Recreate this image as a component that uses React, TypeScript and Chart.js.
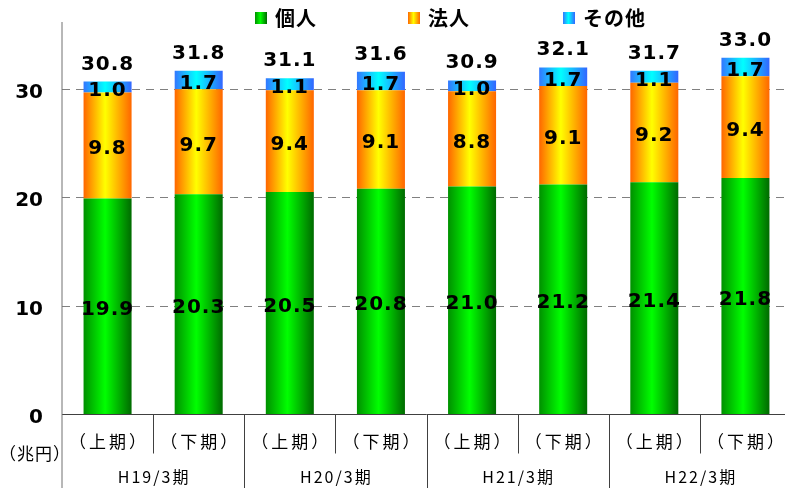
import { useEffect, useRef } from 'react';
import { Chart, registerables } from 'chart.js';

Chart.register(...registerables);

const periods = ['（上期）', '（下期）', '（上期）', '（下期）', '（上期）', '（下期）', '（上期）', '（下期）'];
const groups = ['H19/3期', 'H20/3期', 'H21/3期', 'H22/3期'];
const individual = [19.9, 20.3, 20.5, 20.8, 21.0, 21.2, 21.4, 21.8];
const corporate = [9.8, 9.7, 9.4, 9.1, 8.8, 9.1, 9.2, 9.4];
const others = [1.0, 1.7, 1.1, 1.7, 1.0, 1.7, 1.1, 1.7];
const totals = [30.8, 31.8, 31.1, 31.6, 30.9, 32.1, 31.7, 33.0];
const seriesNames = ['個人', '法人', 'その他'];
const yTicks = [0, 10, 20, 30];
const yUnit = '（兆円）';

const gradStops: [number, string][][] = [
  [[0, '#009000'], [0.45, '#00ff00'], [1, '#006a00']],
  [[0, '#ff6600'], [0.45, '#ffff00'], [1, '#ff6600']],
  [[0, '#3377ff'], [0.45, '#00ffff'], [1, '#3366ff']],
];

const BAR_PCT = 0.527;
const NUM_FONT = '"DejaVu Sans", sans-serif';
const JP_FONT = '"Noto Sans CJK JP", sans-serif';

function makeGrad(ctx: CanvasRenderingContext2D, x0: number, x1: number, stops: [number, string][]) {
  const g = ctx.createLinearGradient(x0, 0, x1, 0);
  stops.forEach(([o, c]) => g.addColorStop(o, c));
  return g;
}

function barBg(si: number) {
  return (c: any) => {
    const chart = c.chart;
    const area = chart.chartArea;
    const xs = chart.scales?.x;
    if (!area || !xs || c.dataIndex === undefined) return gradStops[si][1][1];
    const cx = xs.getPixelForValue(c.dataIndex);
    const w = (area.width / periods.length) * BAR_PCT;
    return makeGrad(chart.ctx, cx - w / 2, cx + w / 2, gradStops[si]);
  };
}

function withSpacing(ctx: CanvasRenderingContext2D, sp: string, fn: () => void) {
  const anyCtx = ctx as any;
  const prev = anyCtx.letterSpacing;
  if ('letterSpacing' in anyCtx) anyCtx.letterSpacing = sp;
  fn();
  if ('letterSpacing' in anyCtx) anyCtx.letterSpacing = prev ?? '0px';
}

const drawPlugin = {
  id: 'custom',
  beforeDatasetsDraw(chart: any) {
    const { ctx, chartArea: a, scales } = chart;
    const y = scales.y;
    ctx.save();
    ctx.strokeStyle = '#808080';
    ctx.lineWidth = 1;
    ctx.setLineDash([8, 6]);
    yTicks.forEach((v) => {
      if (v === 0) return;
      const py = Math.round(y.getPixelForValue(v)) + 0.5;
      ctx.beginPath();
      ctx.moveTo(a.left, py);
      ctx.lineTo(a.right, py);
      ctx.stroke();
    });
    ctx.restore();
  },
  afterDatasetsDraw(chart: any) {
    const { ctx, chartArea: a, scales } = chart;
    const x = scales.x;
    const y = scales.y;
    const H = chart.height;
    const catW = a.width / periods.length;
    const base = Math.round(y.getPixelForValue(0)) + 0.5;

    ctx.save();
    ctx.strokeStyle = '#404040';
    ctx.lineWidth = 1;
    ctx.beginPath();
    ctx.moveTo(a.left, base);
    ctx.lineTo(a.right, base);
    ctx.stroke();

    ctx.strokeStyle = '#707070';
    ctx.beginPath();
    ctx.moveTo(a.left, a.top);
    ctx.lineTo(a.left, H);
    ctx.stroke();

    ctx.strokeStyle = '#404040';
    for (let i = 1; i < periods.length; i++) {
      const sx = Math.round(a.left + catW * i) + 0.5;
      const isGroup = i % 2 === 0;
      ctx.beginPath();
      ctx.moveTo(sx, base);
      ctx.lineTo(sx, isGroup ? H : base + 39);
      ctx.stroke();
    }

    ctx.fillStyle = '#000';
    ctx.font = `bold 20px ${NUM_FONT}`;
    ctx.textAlign = 'right';
    ctx.textBaseline = 'alphabetic';
    yTicks.forEach((v) => {
      ctx.fillText(String(v), 43, y.getPixelForValue(v) + 9);
    });

    ctx.font = `17px ${JP_FONT}`;
    ctx.textAlign = 'left';
    ctx.textBaseline = 'middle';
    withSpacing(ctx, '1px', () => ctx.fillText(yUnit, -1, 454));

    ctx.textAlign = 'center';
    ctx.font = `17px ${JP_FONT}`;
    periods.forEach((p, i) => {
      withSpacing(ctx, '3px', () => ctx.fillText(p, x.getPixelForValue(i) + 1.5, 442));
    });
    ctx.font = `16px ${JP_FONT}`;
    groups.forEach((g, gi) => {
      const cx = a.left + catW * (gi * 2 + 1);
      withSpacing(ctx, '2px', () => ctx.fillText(g, cx + 1, 477));
    });

    ctx.font = `bold 20px ${NUM_FONT}`;
    ctx.textAlign = 'center';
    ctx.textBaseline = 'alphabetic';
    chart.data.datasets.forEach((ds: any, di: number) => {
      const meta = chart.getDatasetMeta(di);
      meta.data.forEach((el: any, i: number) => {
        const cy = (el.y + el.base) / 2;
        ctx.fillText(ds.data[i].toFixed(1), el.x, cy + 9);
      });
    });

    const topMeta = chart.getDatasetMeta(chart.data.datasets.length - 1);
    topMeta.data.forEach((el: any, i: number) => {
      ctx.fillText(totals[i].toFixed(1), el.x, el.y - 12);
    });

    const legendX = [255, 408, 563];
    ctx.textAlign = 'left';
    ctx.textBaseline = 'middle';
    ctx.font = `bold 20px ${JP_FONT}`;
    seriesNames.forEach((n, si) => {
      const lx = legendX[si];
      ctx.fillStyle = makeGrad(ctx, lx, lx + 12, gradStops[si]);
      ctx.fillRect(lx, 12, 12, 12);
      ctx.fillStyle = '#000';
      ctx.fillText(n, lx + 20, 18);
    });
    ctx.restore();
  },
};

export default function App() {
  const ref = useRef<HTMLCanvasElement | null>(null);
  useEffect(() => {
    if (!ref.current) return;
    const chart = new Chart(ref.current, {
      type: 'bar',
      data: {
        labels: periods,
        datasets: [
          { label: seriesNames[0], data: individual, backgroundColor: barBg(0) as any, borderWidth: 0 },
          { label: seriesNames[1], data: corporate, backgroundColor: barBg(1) as any, borderWidth: 0 },
          { label: seriesNames[2], data: others, backgroundColor: barBg(2) as any, borderWidth: 0 },
        ],
      },
      options: {
        responsive: false,
        animation: false,
        devicePixelRatio: 1,
        layout: { padding: { left: 62, top: 22, right: 0, bottom: 74 } },
        datasets: { bar: { barPercentage: BAR_PCT, categoryPercentage: 1 } },
        plugins: { legend: { display: false }, tooltip: { enabled: false } },
        scales: {
          x: { stacked: true, display: false },
          y: { stacked: true, display: false, min: 0, max: 36.2 },
        },
      },
      plugins: [drawPlugin],
    });
    return () => chart.destroy();
  }, []);
  return (
    <div style={{ position: 'fixed', left: 0, top: 0, width: 785, height: 488, overflow: 'hidden', background: '#fff' }}>
      <canvas ref={ref} width={791} height={488} style={{ display: 'block' }} />
    </div>
  );
}
